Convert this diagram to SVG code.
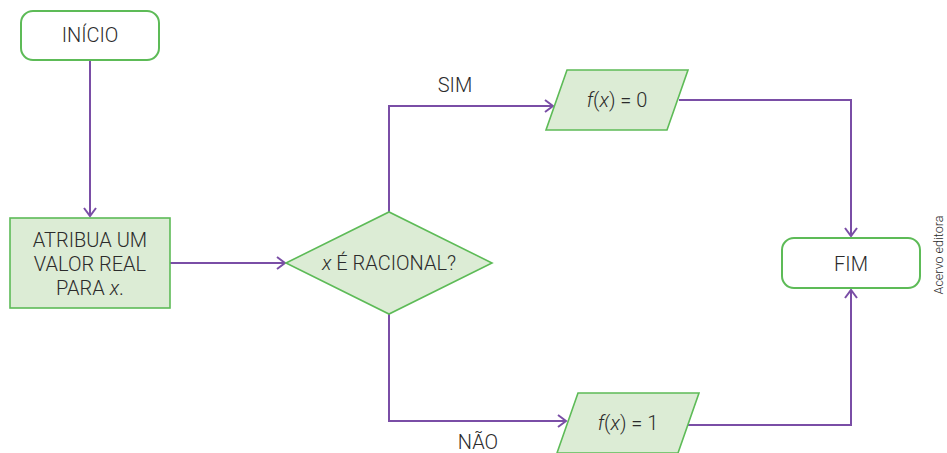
<svg xmlns="http://www.w3.org/2000/svg" width="947" height="453" viewBox="0 0 947 453">
<defs>
<style>
.term{fill:#ffffff;stroke:#5dbb57;stroke-width:2}
.proc{fill:#dcecd5;stroke:#5dbb57;stroke-width:1.6}
.edge{fill:none;stroke:#7a4ea6;stroke-width:2}
text{font-family:Roboto,"Liberation Sans",Arial,sans-serif;font-weight:300;font-size:20px;fill:#2b2b2b;text-anchor:middle;dominant-baseline:central}
.credit{font-size:12.5px}
</style>
<marker id="arr" markerWidth="14" markerHeight="14" refX="11" refY="7" orient="auto" markerUnits="userSpaceOnUse">
<path d="M3,1 L11,7 L3,13" fill="none" stroke="#7a4ea6" stroke-width="2"/>
</marker>
</defs>
<rect width="947" height="453" fill="#ffffff"/>
<g id="connectors">
<path class="edge" d="M90,60 V216" marker-end="url(#arr)"/>
<path class="edge" d="M170,263 H285" marker-end="url(#arr)"/>
<path class="edge" d="M389,212 V106 H553" marker-end="url(#arr)"/>
<path class="edge" d="M389,314 V421 H566" marker-end="url(#arr)"/>
<path class="edge" d="M679,100 H851 V236" marker-end="url(#arr)"/>
<path class="edge" d="M688,425 H851 V290" marker-end="url(#arr)"/>
</g>
<g id="inicio">
<rect class="term" x="21" y="11" width="138" height="49" rx="12"/>
<text x="90" y="35">INÍCIO</text>
</g>
<g id="atribua">
<rect class="proc" x="10" y="218" width="160" height="90"/>
<text x="90" y="240">ATRIBUA UM</text>
<text x="90" y="264">VALOR REAL</text>
<text x="90" y="288">PARA <tspan font-style="italic">x</tspan>.</text>
</g>
<g id="decisao">
<polygon class="proc" points="286,263 389,212 492,263 389,314"/>
<text x="389" y="263"><tspan font-style="italic">x</tspan> É RACIONAL?</text>
</g>
<g id="f0">
<polygon class="proc" points="567,70 688,70 667,130 546,130"/>
<text x="617" y="100"><tspan font-style="italic">f</tspan>(<tspan font-style="italic">x</tspan>) = 0</text>
</g>
<g id="f1">
<polygon class="proc" points="578,393 699,393 678,453 557,453"/>
<text x="628" y="423"><tspan font-style="italic">f</tspan>(<tspan font-style="italic">x</tspan>) = 1</text>
</g>
<g id="fim">
<rect class="term" x="782" y="238" width="138" height="50" rx="12"/>
<text x="851" y="264">FIM</text>
</g>
<g id="labels">
<text x="455" y="85">SIM</text>
<text x="478" y="442">NÃO</text>
<text class="credit" x="0" y="0" transform="translate(938,255) rotate(-90)">Acervo editora</text>
</g>
</svg>
